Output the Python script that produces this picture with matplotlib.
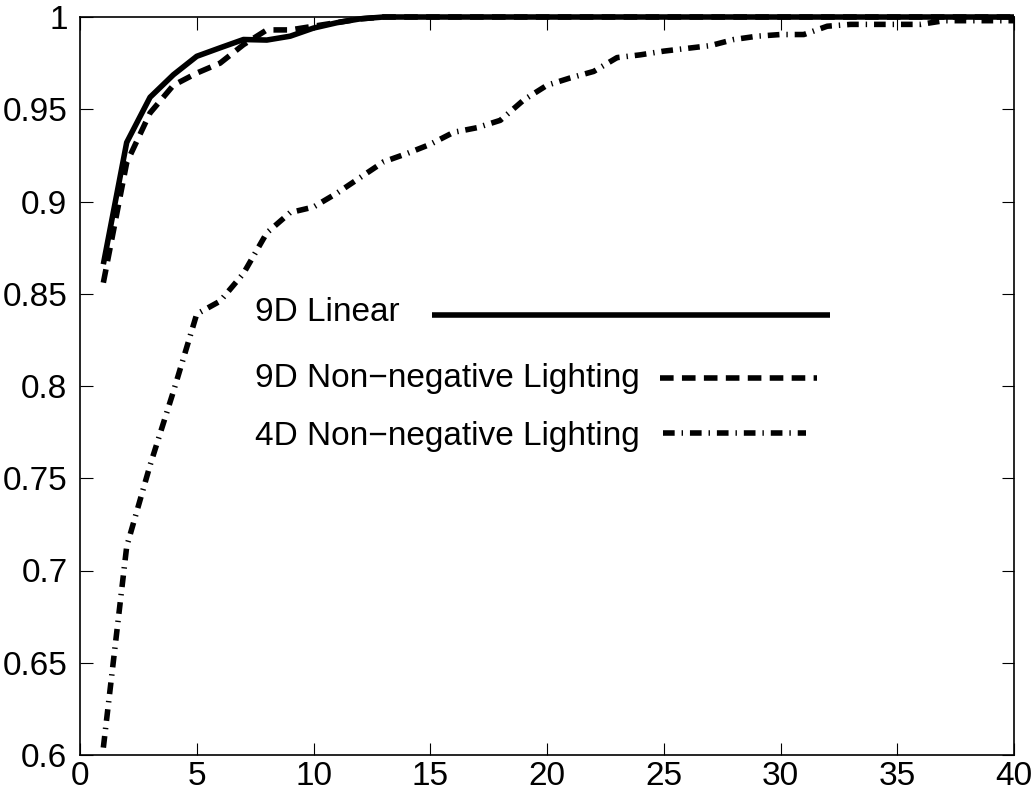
import matplotlib
matplotlib.use("Agg")
import matplotlib.pyplot as plt
from matplotlib.lines import Line2D

plt.rcParams['font.family'] = ['Liberation Sans', 'DejaVu Sans']

x = list(range(1, 41))
linear_9d = [0.866, 0.932, 0.9565, 0.9687, 0.9787, 0.9833, 0.9878, 0.9875, 0.9896, 0.994,
             0.9969, 0.999] + [1.0] * 28
nonneg_9d = [0.856, 0.921, 0.948, 0.963, 0.9696, 0.975, 0.985, 0.993, 0.993, 0.995,
             0.997, 0.999] + [1.0] * 28
nonneg_4d = [0.604, 0.713, 0.757, 0.797, 0.839, 0.846, 0.861, 0.883, 0.894, 0.897,
             0.9045, 0.913, 0.9215, 0.926, 0.931, 0.9375, 0.940, 0.944, 0.955, 0.963,
             0.967, 0.9705, 0.978, 0.9795, 0.9815, 0.983, 0.9845, 0.9878, 0.9896, 0.9905,
             0.9905, 0.995, 0.996, 0.996, 0.996, 0.996, 0.998, 0.998, 0.998, 0.998]
labels = ["9D Linear", "9D Non\u2212negative Lighting", "4D Non\u2212negative Lighting"]
xticks = [0, 5, 10, 15, 20, 25, 30, 35, 40]
yticks = [0.6, 0.65, 0.7, 0.75, 0.8, 0.85, 0.9, 0.95, 1.0]
ytick_labels = ["0.6", "0.65", "0.7", "0.75", "0.8", "0.85", "0.9", "0.95", "1"]

fig = plt.figure(figsize=(10.31, 7.91), dpi=100)
ax = fig.add_axes([80 / 1031, 36 / 791, 934 / 1031, 738 / 791])

lw = 4
styles = ['-', (0, (2.45, 1.5)), (0, (2.1, 1.25, 0.25, 1.25))]
series = [linear_9d, nonneg_9d, nonneg_4d]
for ys, ls in zip(series, styles):
    ax.plot(x, ys, color='black', lw=lw, linestyle=ls, clip_on=False, solid_capstyle='butt',
            dash_capstyle='butt')

ax.set_xlim(0, 40)
ax.set_ylim(0.6, 1.0)
ax.set_xticks(xticks)
ax.set_xticklabels([str(t) for t in xticks])
ax.set_yticks(yticks)
ax.set_yticklabels(ytick_labels)
ax.tick_params(direction='in', length=9, width=0.8, top=True, right=True, labelsize=24)
ax.tick_params(axis='y', pad=9)
ax.tick_params(axis='x', pad=4)
for s in ax.spines.values():
    s.set_linewidth(1.2)

# legend (text on left, line samples on right, no frame)
text_y = [0.599, 0.5095, 0.432]
line_y = [0.596, 0.511, 0.436]
line_x = [(0.377, 0.803), (0.621, 0.789), (0.624, 0.777)]
for lab, ty, ly, (x0, x1), ls in zip(labels, text_y, line_y, line_x, styles):
    ax.text(0.1874, ty, lab, transform=ax.transAxes, fontsize=24, va='center', ha='left')
    ax.add_line(Line2D([x0, x1], [ly, ly], transform=ax.transAxes, color='black', lw=lw,
                       linestyle=ls, solid_capstyle='butt', dash_capstyle='butt'))

fig.savefig('out.png', dpi=100)
